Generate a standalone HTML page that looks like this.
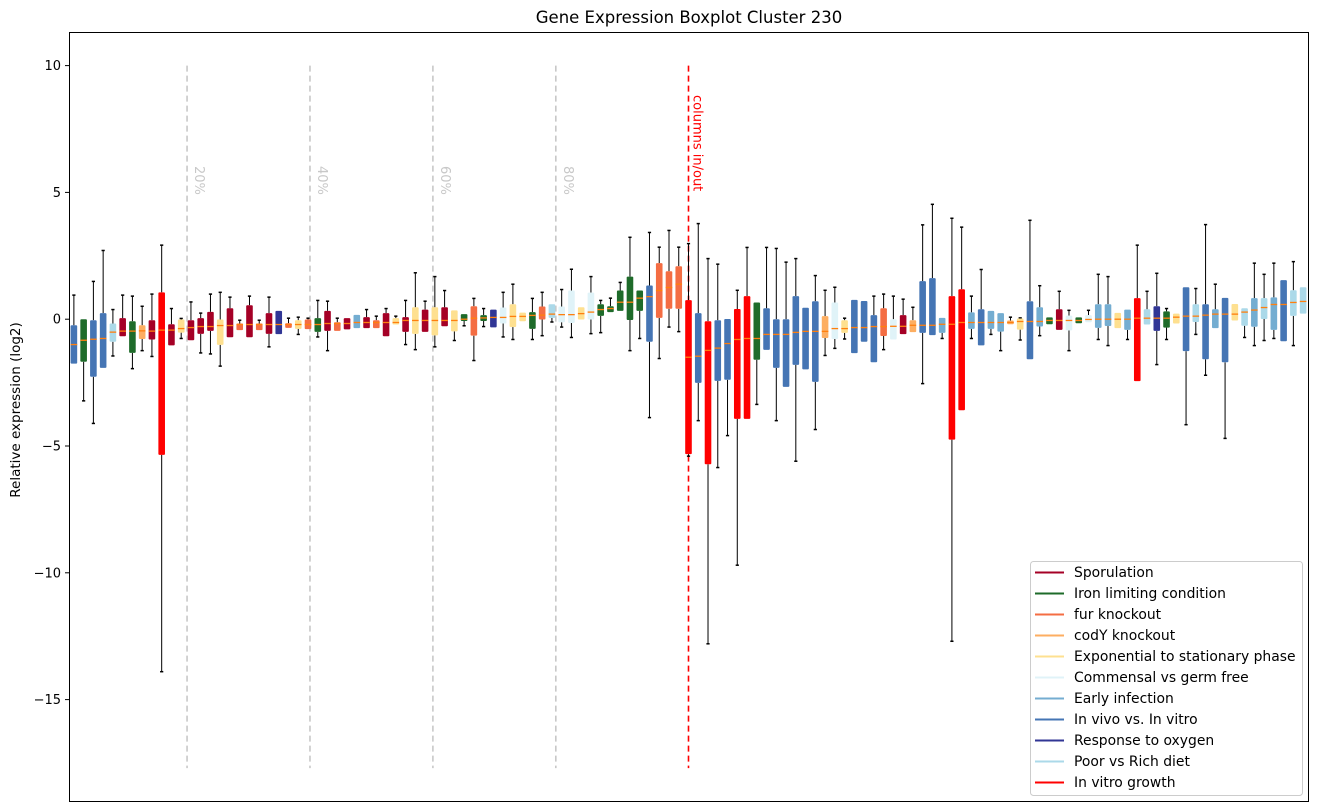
<!DOCTYPE html>
<html><head><meta charset="utf-8"><style>
html,body{margin:0;padding:0;background:#fff;}
svg{display:block;font-family:"DejaVu Sans","Liberation Sans",sans-serif;}
</style></head><body>
<svg id="chart" width="1318" height="812" viewBox="0 0 1318 812" xmlns="http://www.w3.org/2000/svg">
<rect x="0" y="0" width="1318" height="812" fill="#fff"/>
<text x="689" y="23" text-anchor="middle" font-size="16.5">Gene Expression Boxplot Cluster 230</text>
<text transform="translate(20,410) rotate(-90)" text-anchor="middle" font-size="13.5">Relative expression (log2)</text>
<g id="yticks"></g>
<g id="refs"></g>
<g id="boxes"></g>
<rect x="69.5" y="32.5" width="1239" height="769" fill="none" stroke="#000" stroke-width="1"/>
<g id="legend"></g>
</svg>
<script>
const groups = ["Sporulation","Iron limiting condition","fur knockout","codY knockout","Exponential to stationary phase","Commensal vs germ free","Early infection","In vivo vs. In vitro","Response to oxygen","Poor vs Rich diet","In vitro growth"];
const groupColors = ["#a50026","#1e6b2a","#f46d43","#fdae61","#fee090","#e0f3f8","#74add1","#4575b4","#313695","#abd9e9","#ff0000"];
const boxGroup = [7,1,7,7,9,0,1,3,0,10,0,4,0,0,0,4,0,2,0,2,0,8,2,4,2,1,0,2,0,6,0,2,0,4,0,4,0,4,0,4,1,2,1,8,5,4,4,1,2,9,5,5,4,5,1,1,1,1,1,7,2,2,2,
10,7,10,7,7,10,10,1,7,7,7,7,7,7,3,5,4,7,7,7,2,5,0,3,7,7,6,10,10,6,7,6,6,3,4,7,6,1,0,5,1,5,6,6,4,6,10,9,8,1,4,7,9,7,6,7,4,9,6,9,6,7,9,9];
const q3 = [-0.24,0.0,-0.04,0.24,-0.17,0.04,-0.08,-0.24,-0.04,1.06,-0.20,-0.01,-0.04,0.04,0.29,-0.01,0.43,-0.17,0.55,-0.17,0.24,0.33,-0.16,-0.04,-0.01,0.04,0.33,-0.12,0.04,0.17,0.08,-0.04,0.24,0.04,0.08,0.47,0.38,0.47,0.47,0.35,0.2,0.51,0.16,0.38,0.46,0.59,0.26,0.28,0.5,0.59,0.5,1.13,0.47,1.05,0.59,0.51,1.13,1.68,1.13,1.33,2.21,1.89,2.09,
0.75,0.24,-0.08,-0.04,0.01,0.4,0.91,0.66,0.43,0.0,0.0,0.91,0.45,0.71,0.12,0.66,-0.04,0.76,0.72,0.16,0.43,0.0,0.16,-0.04,1.5,1.62,0.05,0.91,1.18,0.27,0.39,0.33,0.24,-0.05,0.03,0.71,0.47,0.07,0.39,0.14,0.07,0.16,0.59,0.59,0.25,0.38,0.83,0.39,0.51,0.31,0.22,1.26,0.59,0.59,0.39,0.84,0.6,0.43,0.83,0.83,0.86,1.54,1.14,1.26];
const q1 = [-1.75,-1.68,-2.27,-1.92,-0.89,-0.67,-1.33,-0.78,-0.80,-5.35,-1.03,-0.53,-0.83,-0.58,-0.46,-1.01,-0.71,-0.43,-0.71,-0.43,-0.58,-0.59,-0.34,-0.38,-0.39,-0.5,-0.46,-0.46,-0.4,-0.35,-0.35,-0.35,-0.67,-0.21,-0.5,-0.58,-0.5,-0.64,-0.28,-0.48,-0.07,-0.65,-0.07,-0.32,-0.17,-0.31,-0.08,-0.38,-0.01,0.05,-0.12,-0.15,-0.01,-0.01,0.13,0.28,0.33,-0.03,0.33,-0.89,0.05,0.41,0.41,
-5.32,-2.51,-5.72,-2.43,-2.39,-3.93,-3.93,-1.6,-1.21,-1.92,-2.67,-1.8,-1.98,-2.47,-0.74,-0.78,-0.54,-1.34,-0.89,-1.7,-0.66,-0.8,-0.59,-0.51,-0.54,-0.63,-0.54,-4.75,-3.59,-0.38,-1.03,-0.38,-0.49,-0.20,-0.41,-1.58,-0.29,-0.2,-0.42,-0.44,-0.16,-0.12,-0.34,-0.27,-0.35,-0.42,-2.44,-0.21,-0.46,-0.33,-0.17,-1.26,-0.11,-1.58,-0.35,-1.7,-0.05,-0.26,-0.3,0.01,-0.42,-0.87,0.13,0.22];
const medians = [-1.0,-0.83,-0.79,-0.76,-0.51,-0.47,-0.47,-0.46,-0.47,-0.43,-0.43,-0.37,-0.33,-0.29,-0.29,-0.25,-0.25,-0.21,-0.21,-0.21,-0.21,-0.21,-0.21,-0.21,-0.21,-0.21,-0.17,-0.17,-0.17,-0.13,-0.13,-0.13,-0.13,-0.13,-0.05,-0.05,-0.05,-0.05,-0.05,-0.05,0.0,0.04,0.05,0.07,0.07,0.11,0.11,0.15,0.16,0.2,0.18,0.18,0.22,0.28,0.38,0.42,0.67,0.67,0.83,0.89,1.13,1.25,1.38,
-1.5,-1.46,-1.23,-1.14,-0.96,-0.8,-0.76,-0.76,-0.6,-0.6,-0.6,-0.52,-0.48,-0.48,-0.48,-0.37,-0.37,-0.33,-0.33,-0.29,-0.29,-0.28,-0.28,-0.24,-0.24,-0.24,-0.2,-0.2,-0.13,-0.13,-0.13,-0.13,-0.13,-0.13,-0.09,-0.09,-0.09,-0.05,-0.05,-0.05,-0.05,-0.01,0.0,0.0,0.0,0.0,0.04,0.04,0.04,0.04,0.08,0.12,0.12,0.16,0.2,0.2,0.2,0.28,0.36,0.46,0.58,0.58,0.66,0.7];
const whiskerHigh = [0.95,0.0,1.49,2.71,0.38,0.95,0.91,0.51,0.99,2.92,0.42,0.03,0.68,0.24,0.99,1.06,0.87,-0.04,0.91,-0.04,0.87,0.33,0.04,0.08,0.04,0.74,0.71,0.04,0.04,0.17,0.38,0.12,0.42,0.12,0.74,1.83,0.71,1.68,1.13,0.35,0.2,0.82,0.42,0.38,1.06,1.38,0.26,0.82,1.06,0.59,1.17,1.97,0.47,1.68,0.74,0.83,1.45,3.23,1.13,3.42,2.84,3.5,2.84,
2.98,3.77,2.39,2.17,0.01,1.14,2.83,0.66,2.83,2.79,2.25,2.39,0.45,1.72,1.14,1.26,0.04,0.76,0.72,0.91,0.99,0.91,0.79,0.47,3.72,4.53,0.05,3.98,3.63,0.91,1.96,0.33,0.24,0.08,0.05,3.9,1.32,0.07,1.1,0.35,0.07,0.35,1.77,1.68,0.25,0.38,2.92,1.1,1.81,0.42,0.22,1.26,1.21,3.73,1.38,0.84,0.6,0.43,2.21,1.77,2.21,1.54,2.27,1.26];
const whiskerLow = [-1.75,-3.22,-4.11,-1.92,-1.45,-0.67,-1.95,-1.24,-1.47,-13.9,-1.03,-0.76,-0.83,-1.33,-1.37,-1.85,-0.71,-0.43,-0.71,-0.43,-1.09,-0.59,-0.34,-0.6,-0.39,-0.7,-1.24,-0.46,-0.4,-0.35,-0.35,-0.35,-0.67,-0.21,-1.0,-1.2,-0.5,-1.09,-0.28,-0.84,-0.26,-1.63,-0.29,-0.32,-0.7,-0.8,-0.08,-0.8,-0.65,-0.11,-0.31,-0.72,-0.01,-0.57,-0.53,0.28,0.33,-1.24,-0.76,-3.88,-1.55,-0.31,-0.49,
-5.4,-4.0,-12.8,-5.85,-4.59,-9.7,-3.93,-3.36,-1.21,-4.0,-2.67,-5.6,-1.98,-4.35,-1.43,-1.15,-0.78,-1.34,-0.89,-1.7,-1.2,-0.8,-0.59,-0.51,-2.54,-0.63,-0.76,-12.7,-3.59,-0.76,-1.03,-0.6,-1.24,-0.20,-0.82,-1.58,-0.65,-0.2,-0.42,-1.24,-0.16,-0.12,-0.8,-1.04,-0.35,-0.8,-2.44,-0.21,-1.79,-0.8,-0.17,-4.16,-0.6,-2.21,-0.35,-4.7,-0.05,-0.72,-1.04,-0.84,-0.76,-0.87,-1.04,0.22];
const yTicks = [10,5,0,-5,-10,-15];
const yTickLabels = ["10","5","0","\u22125","\u221210","\u221215"];
const percentLines = [12.6,25.2,37.8,50.4];
const percentLabels = ["20%","40%","60%","80%"];
const splitPos = 64;

const NS="http://www.w3.org/2000/svg";
const X0=69, XW=1239, NB=q3.length;
function xs(p){return X0+(p-0.5)*XW/NB;}
function ys(v){return 319.2-v*25.36;}
function mk(tag,attrs,parent){const e=document.createElementNS(NS,tag);for(const k in attrs)e.setAttribute(k,attrs[k]);parent.appendChild(e);return e;}

const yt=document.getElementById('yticks');
yTicks.forEach((v,i)=>{
  const l=mk('line',{x1:65,x2:69,y1:ys(v),y2:ys(v),stroke:'#000'},yt);
  
  
  const t=mk('text',{x:61,y:ys(v)+4.5,'text-anchor':'end','font-size':13},yt);
  
  
  t.textContent=yTickLabels[i];
});

const refs=document.getElementById('refs');
percentLines.forEach((p,i)=>{
  const x=xs(p);
  const l=mk('line',{x1:x,x2:x,y1:ys(10),y2:ys(-17.7),stroke:'#c8c8c8','stroke-width':1.6,'stroke-dasharray':'6,4'},refs);
  
  
  const t=mk('text',{transform:`translate(${x+8},166) rotate(90)`,'font-size':13,fill:'#c8c8c8'},refs);
  
  
  t.textContent=percentLabels[i];
});
{
  const x=xs(splitPos);
  const l=mk('line',{x1:x,x2:x,y1:ys(10),y2:ys(-17.7),stroke:'#ff0000','stroke-width':1.6,'stroke-dasharray':'6,4'},refs);
  
  
  const t=mk('text',{transform:`translate(${x+5},95) rotate(90)`,'font-size':13,fill:'#ff0000'},refs);
  
  
  t.textContent='columns in/out';
}

const bg=document.getElementById('boxes');
for(let i=0;i<NB;i++){
  const x=xs(i+1), g=mk('g',{},bg);
  
  
  const yh=ys(whiskerHigh[i]), yl=ys(whiskerLow[i]), yt3=ys(q3[i]), yb1=ys(q1[i]);
  if(yh<yt3-0.5){mk('line',{x1:x,x2:x,y1:yh,y2:yt3,stroke:'#000','stroke-width':1},g);mk('line',{x1:x-1.6,x2:x+1.6,y1:yh,y2:yh,stroke:'#000','stroke-width':1.5},g);}
  if(yl>yb1+0.5){mk('line',{x1:x,x2:x,y1:yb1,y2:yl,stroke:'#000','stroke-width':1},g);mk('line',{x1:x-1.6,x2:x+1.6,y1:yl,y2:yl,stroke:'#000','stroke-width':1.5},g);}
  mk('rect',{x:x-3.3,y:yt3,width:6.6,height:Math.max(1,yb1-yt3),rx:1,fill:groupColors[boxGroup[i]]},g);
  mk('line',{x1:x-3.3,x2:x+3.3,y1:ys(medians[i]),y2:ys(medians[i]),stroke:'#ff7f0e','stroke-width':1.3},g);
}

const lg=document.getElementById('legend');
mk('rect',{x:1030.5,y:561.5,width:272,height:234,rx:3,fill:'#fff',stroke:'#ccc','fill-opacity':0.8},lg);
groups.forEach((n,i)=>{
  const y=572.5+i*21;
  const e=mk('g',{},lg);
  
  
  mk('line',{x1:1035,x2:1064,y1:y,y2:y,stroke:groupColors[i],'stroke-width':2},e);
  const t=mk('text',{x:1074,y:y+4.5,'font-size':13.9},e);
  t.textContent=n;
});
</script>
</body></html>
